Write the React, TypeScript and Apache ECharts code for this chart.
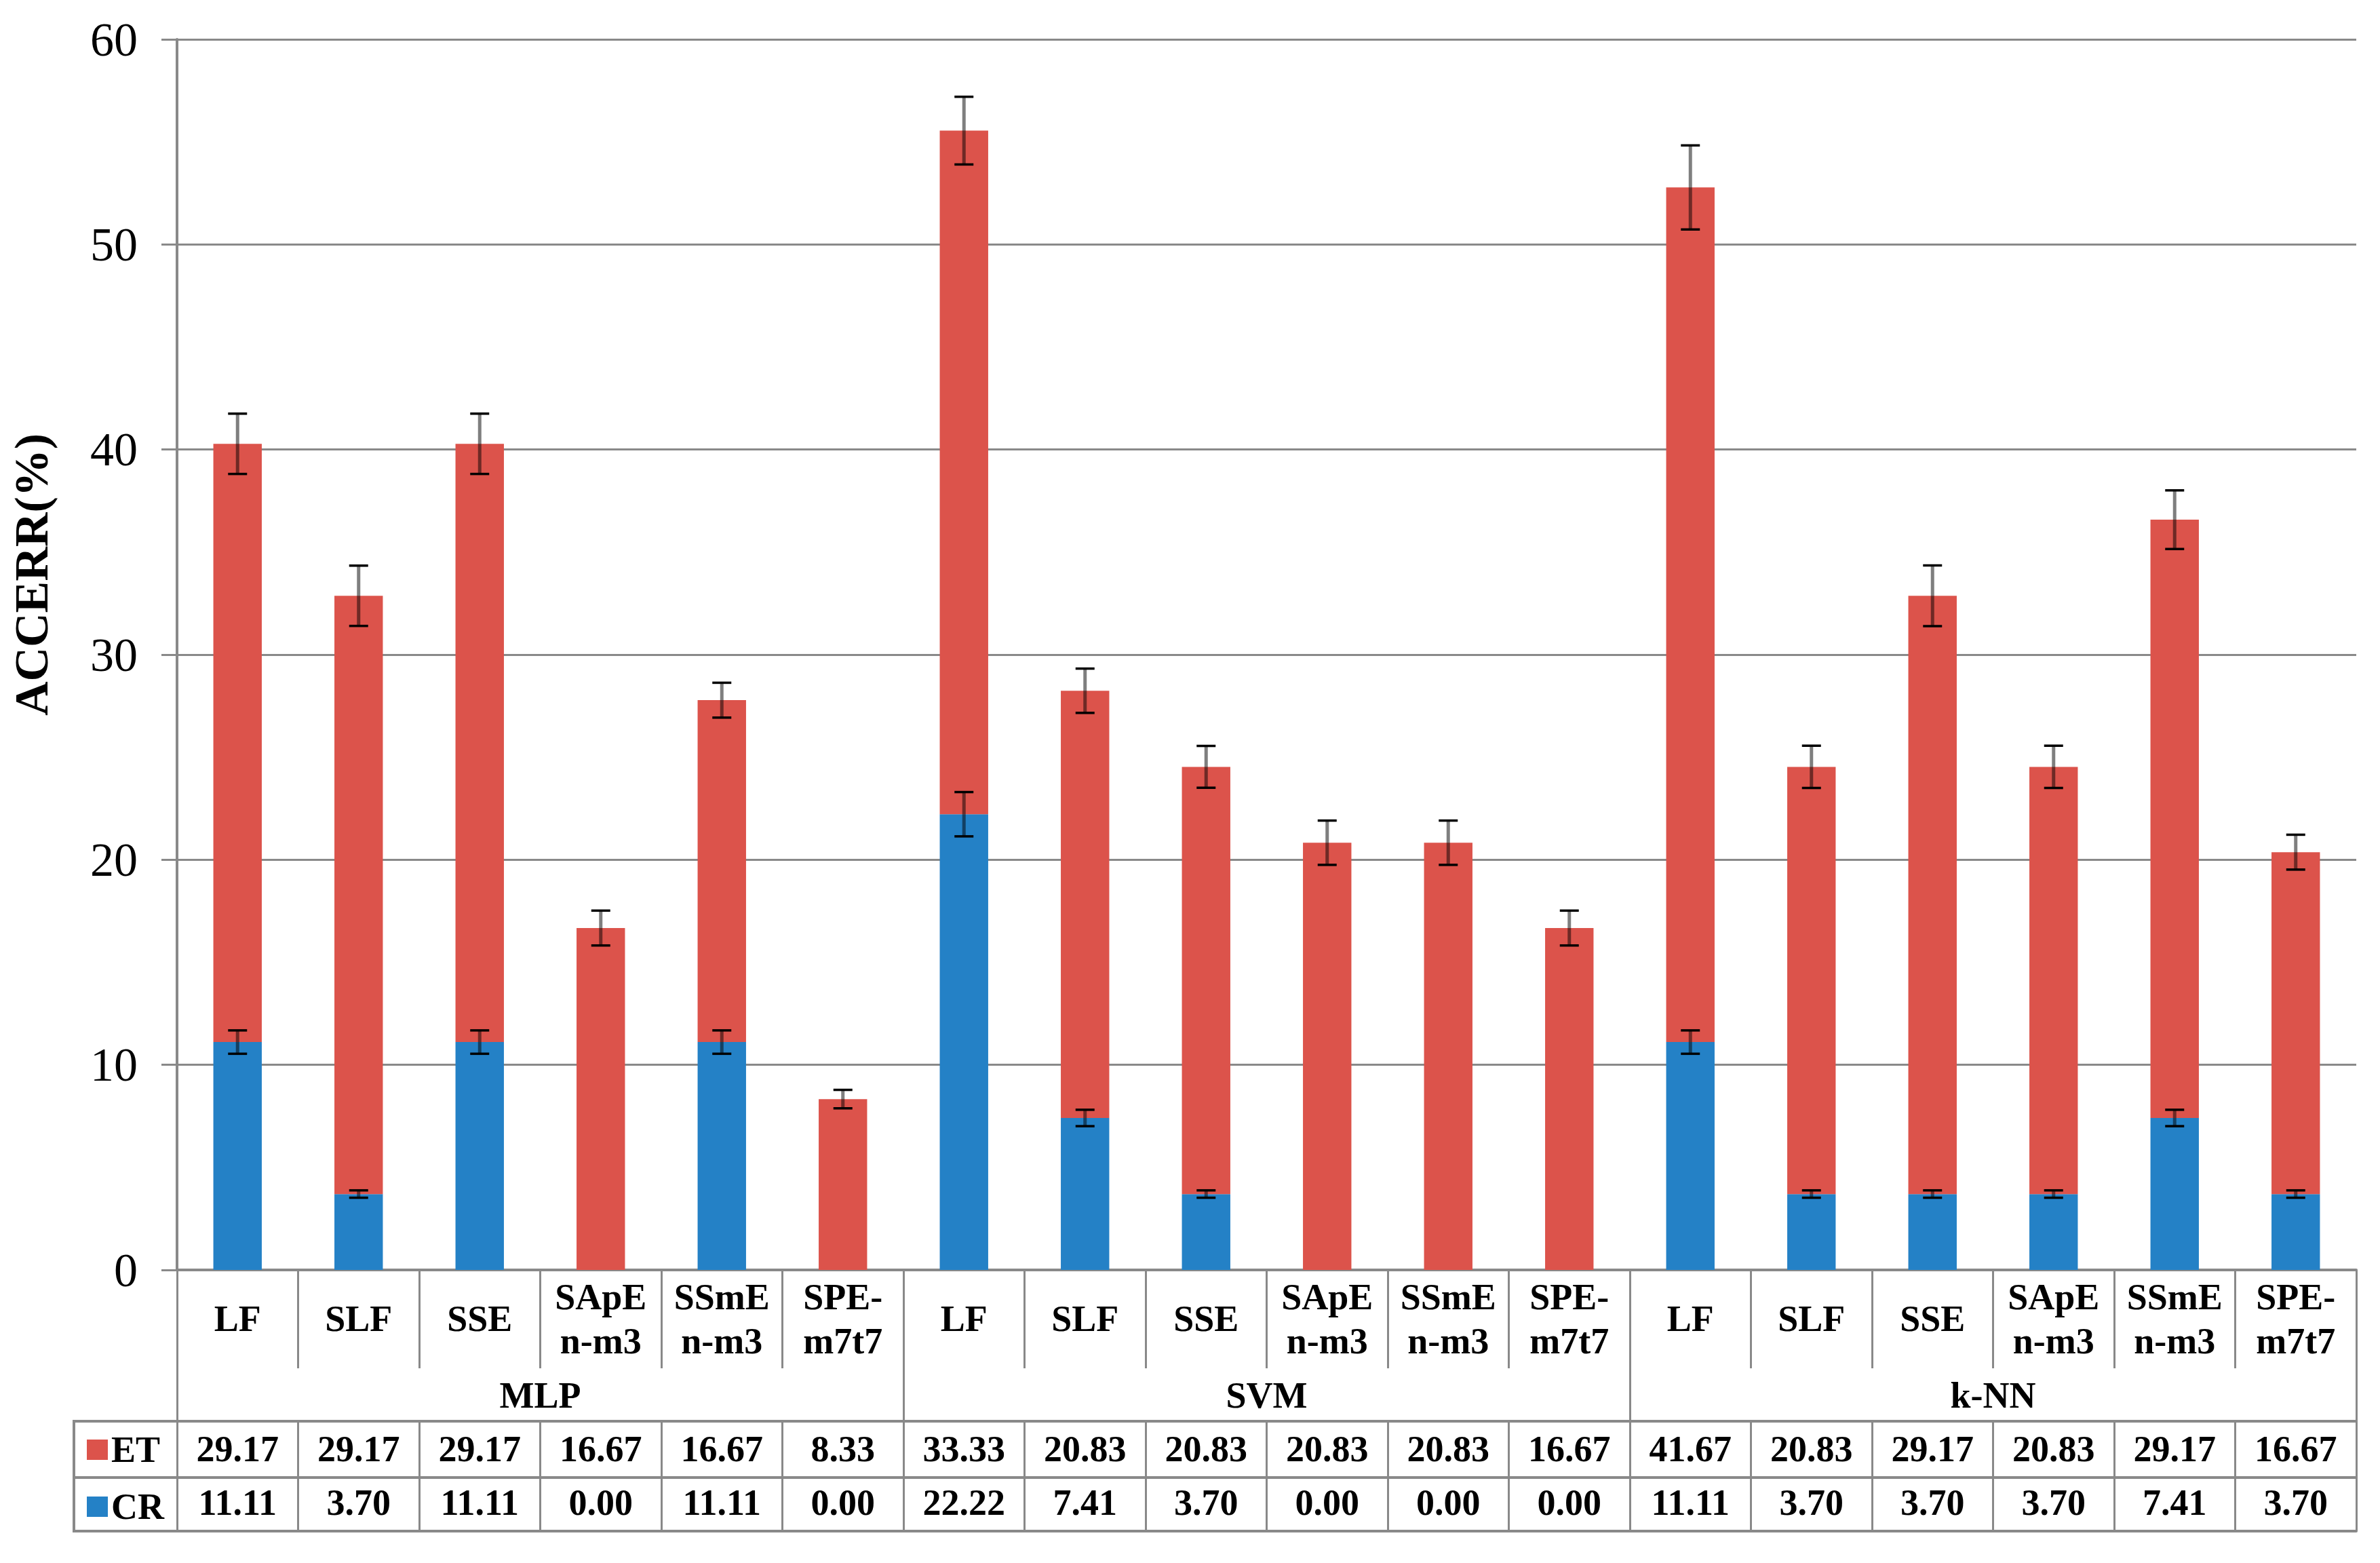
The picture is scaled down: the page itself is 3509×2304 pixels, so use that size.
import React, { useEffect, useRef } from 'react';
import * as echarts from 'echarts';

const categories = [
  'LF', 'SLF', 'SSE', 'SApE\nn-m3', 'SSmE\nn-m3', 'SPE-\nm7t7',
  'LF', 'SLF', 'SSE', 'SApE\nn-m3', 'SSmE\nn-m3', 'SPE-\nm7t7',
  'LF', 'SLF', 'SSE', 'SApE\nn-m3', 'SSmE\nn-m3', 'SPE-\nm7t7',
];
const groups = ['MLP', 'SVM', 'k-NN'];
const etValues = [29.17, 29.17, 29.17, 16.67, 16.67, 8.33, 33.33, 20.83, 20.83, 20.83, 20.83, 16.67, 41.67, 20.83, 29.17, 20.83, 29.17, 16.67];
const crValues = [11.11, 3.70, 11.11, 0.00, 11.11, 0.00, 22.22, 7.41, 3.70, 0.00, 0.00, 0.00, 11.11, 3.70, 3.70, 3.70, 7.41, 3.70];
// half-length of error bars
const etErr = [1.47, 1.47, 1.47, 0.85, 0.85, 0.45, 1.65, 1.08, 1.02, 1.08, 1.08, 0.85, 2.05, 1.03, 1.48, 1.03, 1.43, 0.85];
const crErr = [0.57, 0.18, 0.57, 0, 0.57, 0, 1.08, 0.4, 0.18, 0, 0, 0, 0.57, 0.18, 0.18, 0.18, 0.4, 0.18];
const yMin = 0;
const yMax = 60;
const yInterval = 10;

const FONT = '"Liberation Serif", "Times New Roman", serif';
const GRAY = '#898989';
const RED = '#DC534B';
const BLUE = '#2481C6';

export default function App() {
  const ref = useRef<HTMLDivElement>(null);

  useEffect(() => {
    if (!ref.current) return;
    const chart = echarts.init(ref.current, null, { renderer: 'svg' });

    const crErrData: number[][] = [];
    const totErrData: number[][] = [];
    categories.forEach((_, i) => {
      if (crErr[i] > 0) crErrData.push([i, crValues[i] - crErr[i], crValues[i] + crErr[i]]);
      const tot = crValues[i] + etValues[i];
      if (etErr[i] > 0) totErrData.push([i, tot - etErr[i], tot + etErr[i]]);
    });

    const renderErr = (params: any, api: any) => {
      const x = api.value(0);
      const lo = api.coord([x, api.value(1)]);
      const hi = api.coord([x, api.value(2)]);
      const half = 14;
      return {
        type: 'group',
        children: [
          { type: 'line', shape: { x1: lo[0], y1: lo[1], x2: hi[0], y2: hi[1] }, style: { stroke: 'rgba(0,0,0,0.5)', lineWidth: 5 } },
          { type: 'line', shape: { x1: hi[0] - half, y1: hi[1], x2: hi[0] + half, y2: hi[1] }, style: { stroke: '#000', lineWidth: 3.5 } },
          { type: 'line', shape: { x1: lo[0] - half, y1: lo[1], x2: lo[0] + half, y2: lo[1] }, style: { stroke: '#000', lineWidth: 3.5 } },
        ],
      };
    };

    const boldLabel = {
      fontFamily: FONT,
      fontWeight: 'bold',
      fontSize: 54,
      color: '#000',
    };

    const option: any = {
      animation: false,
      backgroundColor: '#fff',
      grid: { left: 261, right: 35, top: 58, bottom: 432, containLabel: false },
      legend: {
        orient: 'vertical',
        left: 128,
        top: 2110,
        padding: 0,
        itemWidth: 31,
        itemHeight: 30,
        itemGap: 30,
        icon: 'rect',
        selectedMode: false,
        data: ['ET', 'CR'],
        textStyle: { ...boldLabel, lineHeight: 51 },
      },
      xAxis: [
        {
          type: 'category',
          gridIndex: 0,
          position: 'bottom',
          data: categories,
          boundaryGap: true,
          axisLine: { show: true, onZero: false, lineStyle: { color: GRAY, width: 4 } },
          axisTick: { show: true, interval: 0, length: 145, lineStyle: { color: GRAY, width: 3 } },
          axisLabel: { ...boldLabel, interval: 0, margin: 72, verticalAlign: 'middle', lineHeight: 65 },
        },
        {
          type: 'category',
          gridIndex: 0,
          position: 'bottom',
          data: groups,
          boundaryGap: true,
          axisLine: { show: false, onZero: false },
          axisTick: { show: true, interval: 0, length: 223, lineStyle: { color: GRAY, width: 3 } },
          axisLabel: { ...boldLabel, interval: 0, margin: 185, verticalAlign: 'middle' },
        },
        {
          type: 'category',
          gridIndex: 0,
          position: 'bottom',
          offset: 223,
          data: etValues.map((v) => v.toFixed(2)),
          boundaryGap: true,
          axisLine: { show: true, onZero: false, lineStyle: { color: GRAY, width: 4 } },
          axisTick: { show: true, interval: 0, length: 83, lineStyle: { color: GRAY, width: 3 } },
          axisLabel: { ...boldLabel, interval: 0, margin: 41, verticalAlign: 'middle' },
        },
        {
          type: 'category',
          gridIndex: 0,
          position: 'bottom',
          offset: 306,
          data: crValues.map((v) => v.toFixed(2)),
          boundaryGap: true,
          axisLine: { show: true, onZero: false, lineStyle: { color: GRAY, width: 4 } },
          axisTick: { show: true, interval: 0, length: 79, lineStyle: { color: GRAY, width: 3 } },
          axisLabel: { ...boldLabel, interval: 0, margin: 37, verticalAlign: 'middle' },
        },
        {
          type: 'category',
          gridIndex: 0,
          position: 'bottom',
          offset: 385,
          data: categories,
          boundaryGap: true,
          axisLine: { show: true, onZero: false, lineStyle: { color: GRAY, width: 4 } },
          axisTick: { show: false },
          axisLabel: { show: false },
        },
      ],
      yAxis: {
        type: 'value',
        min: yMin,
        max: yMax,
        interval: yInterval,
        axisLine: { show: true, lineStyle: { color: GRAY, width: 4 } },
        axisTick: { show: true, length: 23, lineStyle: { color: GRAY, width: 3 } },
        splitLine: { show: true, lineStyle: { color: GRAY, width: 3 } },
        axisLabel: { fontFamily: FONT, fontSize: 70, color: '#000', margin: 58 },
      },
      graphic: [
        {
          type: 'text',
          x: 46,
          y: 847,
          rotation: Math.PI / 2,
          style: {
            text: 'ACCERR(%)',
            fontFamily: FONT,
            fontWeight: 'bold',
            fontSize: 70,
            fill: '#000',
            align: 'center',
            verticalAlign: 'middle',
          },
        },
        {
          type: 'polyline',
          shape: { points: [[261, 2095], [109, 2095], [109, 2257], [261, 2257]] },
          style: { stroke: GRAY, lineWidth: 4, fill: 'none' },
        },
        {
          type: 'line',
          shape: { x1: 109, y1: 2178, x2: 261, y2: 2178 },
          style: { stroke: GRAY, lineWidth: 4 },
        },
      ],
      series: [
        {
          name: 'CR',
          type: 'bar',
          stack: 'acc',
          xAxisIndex: 0,
          barWidth: '40%',
          itemStyle: { color: BLUE },
          data: crValues,
        },
        {
          name: 'ET',
          type: 'bar',
          stack: 'acc',
          xAxisIndex: 0,
          barWidth: '40%',
          itemStyle: { color: RED },
          data: etValues,
        },
        {
          name: 'CR error',
          type: 'custom',
          xAxisIndex: 0,
          z: 10,
          renderItem: renderErr,
          encode: { x: 0, y: [1, 2] },
          data: crErrData,
        },
        {
          name: 'Total error',
          type: 'custom',
          xAxisIndex: 0,
          z: 10,
          renderItem: renderErr,
          encode: { x: 0, y: [1, 2] },
          data: totErrData,
        },
      ],
    };

    chart.setOption(option);
    return () => chart.dispose();
  }, []);

  return (
    <div
      ref={ref}
      style={{ position: 'fixed', left: 0, top: 0, width: 3509, height: 2304, background: '#fff' }}
    />
  );
}
